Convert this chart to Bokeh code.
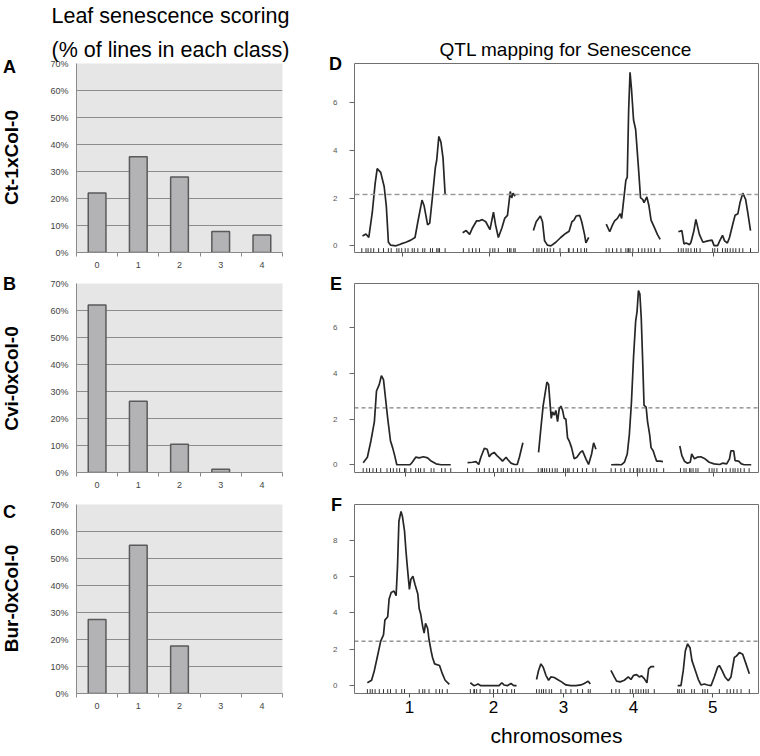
import math
from bokeh.plotting import figure
from bokeh.layouts import column, row
from bokeh.models import Range1d, FixedTicker, Label, Span
from bokeh.embed import file_html
from bokeh.resources import INLINE

# ---------------- data: leaf senescence scoring (% of lines in each class) ----------------
classes = ["0", "1", "2", "3", "4"]
ct1_pct = [22.0, 35.5, 28.0, 7.8, 6.5]
cvi0_pct = [62.0, 26.4, 10.5, 1.2, 0.0]
bur0_pct = [27.4, 54.9, 17.6, 0.0, 0.0]
pct_ticks = [0, 10, 20, 30, 40, 50, 60, 70]
crosses = ["Ct-1xCol-0", "Cvi-0xCol-0", "Bur-0xCol-0"]

# ---------------- data: QTL scans (cM within chromosome, LOD) ----------------
chrom_names = ["1", "2", "3", "4", "5"]
chrom_start = [0, 144, 244, 349, 451]

# D: Ct-1 x Col-0
d1_pos = [1, 6, 10, 15, 19, 22, 27, 32, 35, 38, 41, 49, 56, 63, 70, 76, 80, 86, 89, 94, 97, 101, 105, 107, 110, 113, 116, 119]
d1_lod = [0.41, 0.50, 0.35, 1.40, 2.60, 3.24, 3.08, 2.48, 1.68, 0.15, 0.03, 0.00, 0.08, 0.15, 0.24, 0.35, 1.00, 1.92, 1.68, 0.88, 0.95, 2.08, 3.28, 3.60, 4.59, 4.35, 3.68, 2.15]
d2_pos = [0, 5, 10, 14, 20, 24, 28, 33, 39, 44, 47, 51, 56, 60, 64, 68, 70, 72, 75]
d2_lod = [0.55, 0.64, 0.48, 0.75, 1.05, 1.05, 1.10, 1.01, 0.68, 1.41, 0.88, 0.35, 0.75, 1.15, 1.28, 2.28, 2.01, 2.21, 2.08]
d3_pos = [1, 5, 11, 14, 17, 21, 26, 33, 40, 47, 52, 56, 59, 62, 67, 70, 74, 76, 80]
d3_lod = [0.64, 1.01, 1.25, 1.01, 0.21, 0.03, 0.00, 0.15, 0.35, 0.52, 0.61, 1.01, 1.08, 1.25, 1.28, 1.01, 0.48, 0.12, 0.35]
d4_pos = [0, 5, 9, 12, 16, 20, 22, 26, 28, 30, 32, 34, 36, 39, 42, 46, 49, 52, 54, 58, 61, 64, 69, 73, 77]
d4_lod = [0.91, 0.59, 0.88, 1.05, 1.15, 1.35, 1.15, 2.21, 2.75, 2.88, 5.68, 7.28, 6.61, 5.28, 4.88, 3.28, 2.01, 1.95, 1.81, 2.05, 1.68, 1.08, 0.75, 0.48, 0.27]
d5_pos = [1, 6, 9, 12, 17, 19, 23, 26, 31, 36, 43, 49, 52, 57, 60, 64, 67, 71, 74, 79, 82, 86, 89, 93, 97, 100, 104]
d5_lod = [0.59, 0.64, 0.08, 0.12, 0.05, 0.15, 0.61, 1.11, 0.48, 0.15, 0.21, 0.24, 0.01, 0.01, 0.21, 0.44, 0.21, 0.12, 0.35, 0.95, 1.28, 1.35, 1.81, 2.21, 1.95, 1.41, 0.64]
d_markers1 = [0, 6, 9, 13, 17, 24, 31, 38, 42, 50, 53, 57, 62, 66, 72, 75, 80, 87, 90, 98, 101, 107, 109, 111, 119]
d_markers2 = [1, 9, 14, 19, 24, 39, 43, 46, 51, 64, 67, 69, 73, 75]
d_markers3 = [1, 6, 9, 13, 17, 21, 25, 30, 39, 51, 52, 58, 64, 69, 74, 77]
d_markers4 = [0, 4, 9, 15, 21, 28, 31, 32, 34, 38, 46, 51, 55, 60, 64, 69, 77]
d_markers5 = [1, 5, 8, 12, 15, 19, 24, 27, 32, 50, 53, 57, 64, 68, 71, 75, 79, 83, 88, 93, 104]
d_mid = [58, 182, 284, 386, 502]
d_threshold = 2.15

# E: Cvi-0 x Col-0
e1_pos = [2, 8, 13, 18, 21, 25, 28, 31, 34, 37, 41, 44, 47, 50, 56, 63, 69, 72, 77, 82, 88, 94, 99, 106, 113, 127]
e1_lod = [0.09, 0.33, 1.04, 1.89, 3.23, 3.52, 3.90, 3.73, 2.88, 2.03, 1.04, 0.75, 0.40, 0.00, 0.00, 0.00, 0.00, 0.11, 0.33, 0.30, 0.35, 0.30, 0.16, 0.04, 0.00, 0.00]
e2_pos = [7, 14, 19, 23, 26, 31, 35, 38, 41, 45, 49, 54, 57, 62, 65, 69, 74, 78, 81, 86]
e2_lod = [0.09, 0.11, 0.14, 0.01, 0.33, 0.72, 0.68, 0.35, 0.47, 0.54, 0.40, 0.26, 0.16, 0.33, 0.21, 0.07, 0.01, 0.01, 0.33, 0.96]
e3_pos = [8.4, 11.7, 15.0, 17.9, 20.3, 22.7, 25.0, 26.5, 28.4, 30.8, 33.1, 35.5, 37.9, 40.3, 42.7, 45.0, 47.4, 49.8, 52.2, 55.5, 59.3, 63.1, 67.9, 71.2, 76.0, 79.8, 84.1, 87.0, 90.3]
e3_lod = [0.54, 1.60, 2.60, 3.16, 3.62, 3.52, 2.60, 2.03, 2.31, 2.17, 2.38, 1.89, 2.45, 2.57, 2.38, 2.03, 2.00, 1.18, 1.04, 0.75, 0.26, 0.33, 0.54, 0.61, 0.26, 0.01, 0.47, 0.96, 0.68]
e4_pos = [7, 15, 22, 26, 30, 33, 36, 39, 42, 44, 46, 48, 50, 52, 54, 57, 59, 62, 64, 67, 70, 72, 77, 81]
e4_lod = [0.00, 0.01, 0.00, 0.11, 0.47, 1.32, 2.74, 4.72, 6.28, 6.71, 7.63, 7.49, 6.43, 4.58, 2.60, 2.52, 1.89, 1.32, 0.75, 0.61, 0.33, 0.16, 0.16, 0.14]
e5_pos = [3, 6, 10, 14, 18, 20, 24, 28, 33, 39, 45, 52, 60, 64, 70, 74, 76, 80, 82, 87, 91, 95, 100, 105]
e5_lod = [0.82, 0.40, 0.14, 0.07, 0.11, 0.47, 0.26, 0.33, 0.35, 0.26, 0.11, 0.04, 0.01, 0.07, 0.04, 0.26, 0.61, 0.61, 0.18, 0.16, 0.04, 0.00, 0.00, 0.00]
e_markers1 = [2, 7, 11, 16, 21, 27, 36, 41, 45, 50, 54, 61, 63, 70, 77, 81, 84, 89, 99, 103, 114, 119, 127]
e_markers2 = [7, 20, 24, 31, 38, 44, 50, 55, 58, 64, 70, 76, 81, 86]
e_markers3 = [8, 12, 14, 17, 20, 24, 28, 32, 35, 44, 47, 50, 52, 58, 64, 71, 77, 86, 90]
e_markers4 = [7, 13, 21, 26, 34, 39, 44, 45, 48, 52, 58, 63, 68, 72, 82]
e_markers5 = [4, 9, 12, 17, 19, 22, 26, 29, 45, 49, 52, 56, 64, 69, 75, 79, 82, 86, 90, 95, 102]
e_mid = [62, 190, 291, 394, 502]
e_threshold = 2.49

# F: Bur-0 x Col-0
f1_pos = [8, 14, 18, 22, 27, 31, 33, 37, 39, 42, 46, 49, 51, 53, 56, 58, 61, 63, 65, 68, 70, 73, 76, 80, 82, 84, 87, 89, 91, 94, 96, 99, 101, 104, 111, 115, 119, 125]
f1_lod = [0.16, 0.30, 0.84, 1.55, 2.45, 2.80, 3.61, 3.79, 4.77, 5.13, 5.21, 4.95, 6.55, 9.05, 9.59, 9.32, 8.52, 7.45, 6.55, 5.30, 5.84, 6.02, 5.57, 5.04, 4.23, 3.96, 3.25, 2.89, 3.43, 3.16, 2.54, 1.91, 1.55, 1.20, 1.11, 0.66, 0.30, 0.07]
f2_pos = [11, 16, 19, 22, 26, 36, 45, 52, 56, 59, 64, 69, 73, 77]
f2_lod = [0.16, 0.00, 0.04, 0.09, 0.00, 0.00, 0.00, 0.00, 0.16, 0.04, 0.00, 0.12, 0.00, 0.00]
f3_pos = [5.5, 8.4, 11.7, 15.0, 18.9, 22.7, 26.0, 30.8, 35.5, 41.2, 47.4, 54.6, 61.7, 68.9, 73.6, 79.3, 82.2]
f3_lod = [0.34, 0.84, 1.20, 1.02, 0.57, 0.30, 0.48, 0.45, 0.34, 0.21, 0.04, 0.00, 0.00, 0.04, 0.12, 0.25, 0.09]
f4_pos = [6.7, 11.5, 14.8, 20.0, 25.8, 31.5, 35.3, 39.1, 43.4, 47.2, 50.5, 54.3, 58.1, 60.5, 63.9, 68.6]
f4_lod = [0.84, 0.48, 0.25, 0.21, 0.30, 0.48, 0.34, 0.57, 0.61, 0.48, 0.54, 0.39, 0.16, 0.93, 1.05, 1.05]
f5_pos = [0, 4.7, 8.0, 10.9, 14.2, 17.6, 20.4, 25.2, 29.5, 33.3, 38.0, 42.8, 47.6, 52.3, 57.1, 59.5, 63.3, 67.6, 72.3, 76.1, 80.9, 84.2, 88.0, 92.8, 97.6, 102.3]
f5_lod = [0.00, 0.00, 0.84, 1.91, 2.30, 2.09, 1.38, 0.84, 0.34, 0.04, 0.09, 0.04, 0.00, 0.48, 1.02, 1.11, 0.84, 0.48, 0.27, 0.48, 1.55, 1.64, 1.82, 1.73, 1.20, 0.66]
f_markers1 = [8, 12, 15, 19, 25, 31, 37, 41, 49, 57, 61, 82, 87, 90, 96, 106, 111, 115, 122]
f_markers2 = [11, 16, 17, 20, 25, 39, 44, 50, 57, 63, 70, 74]
f_markers3 = [5.5, 9.3, 12.7, 15.5, 18.9, 23.6, 27, 40.3, 47.4, 54.6, 64.1, 71.2, 79.3, 82.2]
f_markers4 = [7.7, 13.8, 18.6, 34.3, 37.7, 42.4, 45.8, 49.6, 53.3, 56.7, 60, 68.6]
f_markers5 = [0, 2.3, 5.7, 9.5, 20, 23.8, 35.7, 39, 42.8, 59.5, 70.5, 75.2, 80, 84.8, 90.5, 102.3]
f_mid = [68, 188, 288, 388, 501]
f_threshold = 2.45

SANS = "Liberation Sans"

STRIP_W = 22
LEFT_W = 276
RIGHT_W = 461
TOTAL_H = 756


def bar_panel(pcts, top, bottom):
    fh = 189
    p = figure(width=LEFT_W, height=top + fh + bottom,
               x_range=Range1d(-0.5, 4.5), y_range=Range1d(0, 70),
               output_backend="svg", toolbar_location=None,
               min_border_left=54, min_border_right=16,
               min_border_top=top, min_border_bottom=bottom)
    xs = [i for i, v in enumerate(pcts) if v > 0]
    tops = [v for v in pcts if v > 0]
    p.vbar(x=xs, top=tops, bottom=0, width=0.43, fill_color="#b3b3b5",
           line_color="#5a5a5a", line_width=1.5)
    p.background_fill_color = "#e6e6e6"
    p.border_fill_color = "white"
    p.outline_line_color = None
    p.xgrid.visible = False
    p.ygrid.grid_line_color = "#8c8c8c"
    p.ygrid.grid_line_width = 1

    yax = p.yaxis[0]
    yax.ticker = FixedTicker(ticks=pct_ticks)
    yax.major_label_overrides = {t: f"{t}%" for t in pct_ticks}
    yax.major_label_text_font = SANS
    yax.major_label_text_font_size = "9px"
    yax.major_label_text_color = "#444444"
    yax.major_tick_out = 0
    yax.major_tick_in = 0
    yax.minor_tick_out = 0
    yax.minor_tick_in = 0
    yax.major_label_standoff = 8
    yax.axis_line_color = "#8a8a8a"

    xax = p.xaxis[0]
    xax.ticker = FixedTicker(ticks=list(range(len(classes))),
                             minor_ticks=[i - 0.5 for i in range(len(classes) + 1)])
    xax.major_label_overrides = {i: c for i, c in enumerate(classes)}
    xax.major_label_text_font = SANS
    xax.major_label_text_font_size = "9px"
    xax.major_label_text_color = "#444444"
    xax.major_tick_out = 0
    xax.major_tick_in = 0
    xax.minor_tick_out = 4
    xax.minor_tick_in = 0
    xax.minor_tick_line_color = "#8a8a8a"
    xax.axis_line_color = "#8a8a8a"
    xax.major_label_standoff = 5
    return p


def qtl_panel(pos_list, lod_list, marker_list, mids, thr, ylo, yhi, yticks,
              letter, top, fh, bottom, show_labels, thr_color, thr_width, thr_dash):
    p = figure(width=RIGHT_W, height=top + fh + bottom,
               x_range=Range1d(-10.4, 566.4), y_range=Range1d(ylo, yhi),
               output_backend="svg", toolbar_location=None,
               min_border_left=56, min_border_right=1,
               min_border_top=top, min_border_bottom=bottom)
    p.grid.visible = False
    p.outline_line_color = "#707070"
    p.outline_line_width = 1
    for c in range(len(chrom_start)):
        xs = [chrom_start[c] + v for v in pos_list[c]]
        p.line(xs, lod_list[c], line_color="#262626", line_width=1.7)
    p.add_layout(Span(location=thr, dimension="width", line_color=thr_color,
                      line_width=thr_width, line_dash=thr_dash))
    rug_h = (yhi - ylo) / fh * 4.5
    mx = [chrom_start[c] + v for c in range(len(chrom_start)) for v in marker_list[c]]
    p.segment(x0=mx, y0=[ylo] * len(mx), x1=mx, y1=[ylo + rug_h] * len(mx),
              line_color="#333333", line_width=1)

    yax = p.yaxis[0]
    yax.ticker = FixedTicker(ticks=yticks)
    yax.major_label_text_font = SANS
    yax.major_label_text_font_size = "8px"
    yax.major_label_text_color = "#555555"
    yax.major_tick_out = 5
    yax.major_tick_in = 0
    yax.minor_tick_out = 0
    yax.minor_tick_in = 0
    yax.major_tick_line_color = "#666666"
    yax.major_label_standoff = 12
    yax.axis_line_color = None
    yax.axis_label = letter
    yax.axis_label_orientation = "horizontal"
    yax.axis_label_align = "end"
    yax.axis_label_standoff = -12
    yax.axis_label_text_font = SANS
    yax.axis_label_text_font_style = "bold"
    yax.axis_label_text_font_size = "18px"
    yax.axis_label_text_color = "black"

    xax = p.xaxis[0]
    xax.ticker = FixedTicker(ticks=mids)
    xax.major_tick_out = 4
    xax.major_tick_in = 0
    xax.minor_tick_out = 0
    xax.minor_tick_in = 0
    xax.major_tick_line_color = "#555555"
    xax.axis_line_color = None
    if show_labels:
        xax.major_label_overrides = {m: n for m, n in zip(mids, chrom_names)}
        xax.major_label_text_font = SANS
        xax.major_label_text_font_size = "17px"
        xax.major_label_text_color = "black"
        xax.major_label_standoff = 3
        xax.axis_label = "chromosomes"
        xax.axis_label_text_font = SANS
        xax.axis_label_text_font_style = "normal"
        xax.axis_label_text_font_size = "21px"
        xax.axis_label_text_color = "black"
        xax.axis_label_standoff = 8
    else:
        xax.major_label_overrides = {m: "" for m in mids}
        xax.major_label_text_font_size = "1px"
        xax.major_label_standoff = 0
    return p


# left strip with panel letters and rotated cross names
strip = figure(width=STRIP_W, height=TOTAL_H, x_range=Range1d(0, 1), y_range=Range1d(0, 1),
               x_axis_type=None, y_axis_type=None, output_backend="svg",
               toolbar_location=None, min_border=0)
strip.outline_line_color = None
strip.grid.visible = False
for letter, yc in zip(["A", "B", "C"], [66, 283, 511]):
    strip.add_layout(Label(x=9, y=TOTAL_H - yc, x_units="screen", y_units="screen", text=letter,
                           text_font=SANS, text_font_style="bold", text_font_size="18px",
                           text_align="center", text_baseline="middle", text_color="black"))
for name, yc in zip(crosses, [157, 378, 598]):
    strip.add_layout(Label(x=11, y=TOTAL_H - yc, x_units="screen", y_units="screen", text=name,
                           angle=math.pi / 2, text_font=SANS, text_font_style="bold",
                           text_font_size="19px", text_align="center", text_baseline="middle",
                           text_color="black"))

pA = bar_panel(ct1_pct, 63, 23)
pB = bar_panel(cvi0_pct, 8, 20)
pC = bar_panel(bur0_pct, 12, 63)

pA.title.text = "Leaf senescence scoring\n(% of lines in each class)"
pA.title.align = "left"
pA.title.offset = -25
pA.title.standoff = 3
pA.title.text_font = SANS
pA.title.text_font_style = "normal"
pA.title.text_font_size = "21.5px"
pA.title.text_line_height = 1.4
pA.title.text_color = "black"

pD = qtl_panel([d1_pos, d2_pos, d3_pos, d4_pos, d5_pos],
               [d1_lod, d2_lod, d3_lod, d4_lod, d5_lod],
               [d_markers1, d_markers2, d_markers3, d_markers4, d_markers5],
               d_mid, d_threshold, -0.28, 7.65, [0, 2, 4, 6], "D", 63, 196, 16, False,
               "#9a9a9a", 1.5, "5 3")
pE = qtl_panel([e1_pos, e2_pos, e3_pos, e4_pos, e5_pos],
               [e1_lod, e2_lod, e3_lod, e4_lod, e5_lod],
               [e_markers1, e_markers2, e_markers3, e_markers4, e_markers5],
               e_mid, e_threshold, -0.34, 7.94, [0, 2, 4, 6], "E", 8, 196, 13, False,
               "#4d4d4d", 0.9, "4 3")
pF = qtl_panel([f1_pos, f2_pos, f3_pos, f4_pos, f5_pos],
               [f1_lod, f2_lod, f3_lod, f4_lod, f5_lod],
               [f_markers1, f_markers2, f_markers3, f_markers4, f_markers5],
               f_mid, f_threshold, -0.43, 9.97, [0, 2, 4, 6, 8], "F", 10, 195, 59, True,
               "#4d4d4d", 0.9, "4 3")

pD.title.text = "QTL mapping for Senescence"
pD.title.align = "left"
pD.title.offset = 85
pD.title.standoff = 8
pD.title.text_font = SANS
pD.title.text_font_style = "normal"
pD.title.text_font_size = "19px"
pD.title.text_color = "black"

layout = row(strip, column(row(pA, pD), row(pB, pE), row(pC, pF)))

open("out.html", "w").write(file_html(layout, INLINE))
